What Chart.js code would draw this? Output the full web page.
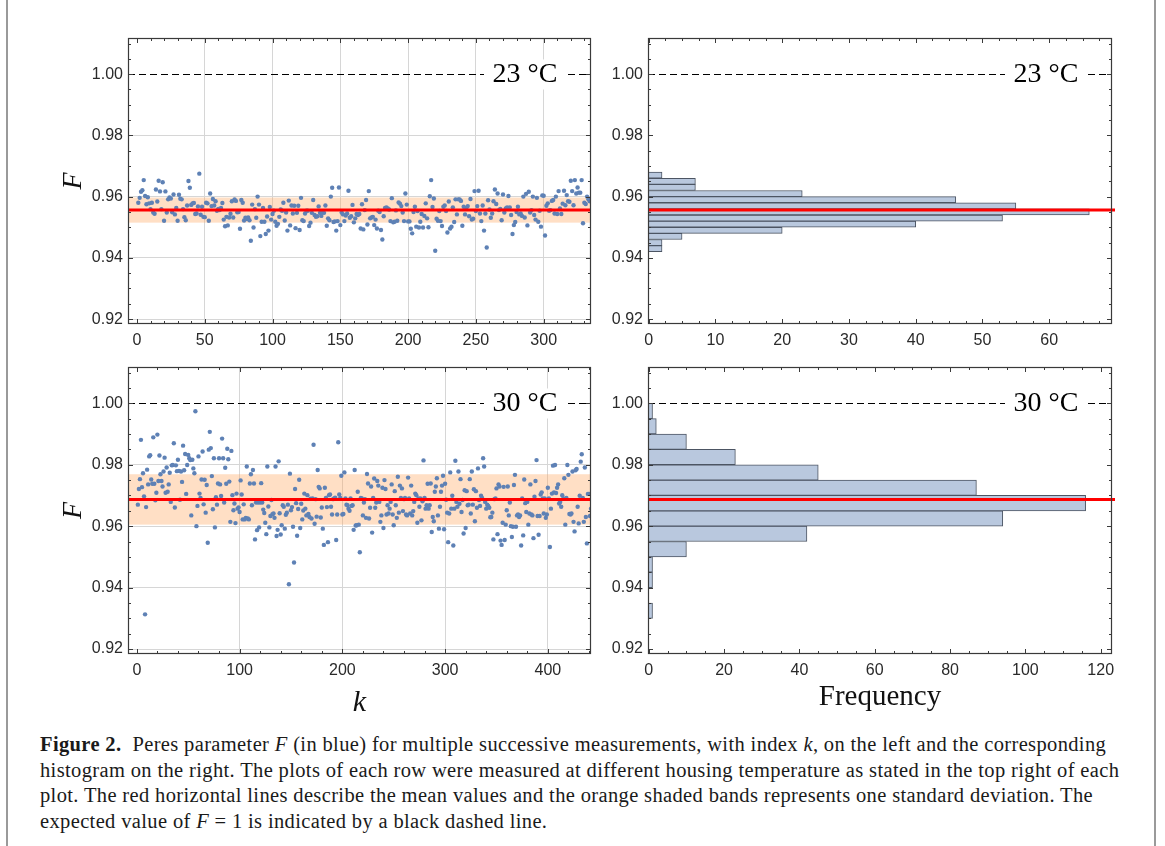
<!DOCTYPE html>
<html>
<head>
<meta charset="utf-8">
<script src="https://cdn.jsdelivr.net/npm/chart.js@4.4.1/dist/chart.umd.min.js"></script>
<style>
  html, body { margin: 0; padding: 0; background: #fff; }
  body { width: 1165px; height: 846px; position: relative; overflow: hidden; }
  canvas { position: absolute; }
  #border { position: absolute; left: 6px; top: 0; width: 1146px; height: 846px;
            border-left: 2px solid #9a9a9a; border-right: 2px solid #9a9a9a; }
  #caption { position: absolute; left: 40px; top: 732px; font-family: "Liberation Serif", serif;
             font-size: 20.5px; letter-spacing: 0.36px; line-height: 25.5px; color: #1a1a1a; white-space: nowrap; }
</style>
</head>
<body>
<div id="border"></div>
<canvas id="sc23" width="600" height="350" style="left:20px;top:10px"></canvas>
<canvas id="hi23" width="545" height="350" style="left:600px;top:10px"></canvas>
<canvas id="sc30" width="600" height="380" style="left:20px;top:350px"></canvas>
<canvas id="hi30" width="545" height="380" style="left:600px;top:350px"></canvas>
<div id="caption">
  <div><b>Figure 2.</b>&nbsp; Peres parameter <i>F</i> (in blue) for multiple successive measurements, with index <i>k</i>, on the left and the corresponding</div>
  <div>histogram on the right. The plots of each row were measured at different housing temperature as stated in the top right of each</div>
  <div>plot. The red horizontal lines describe the mean values and the orange shaded bands represents one standard deviation. The</div>
  <div>expected value of <i>F</i> = 1 is indicated by a black dashed line.</div>
</div>
<script>
// Peres parameter F for successive measurements k = 1, 2, ... at 23 °C
const F23 = [
  0.9580,0.9596,0.9616,0.9621,0.9654,0.9602,0.9575,0.9598,0.9578,0.9559,
  0.9580,0.9548,0.9544,0.9623,0.9584,0.9652,0.9617,0.9559,0.9647,0.9521,
  0.9617,0.9548,0.9591,0.9597,0.9594,0.9549,0.9607,0.9542,0.9563,0.9521,
  0.9606,0.9593,0.9591,0.9559,0.9533,0.9523,0.9571,0.9651,0.9629,0.9573,
  0.9578,0.9579,0.9543,0.9545,0.9568,0.9675,0.9541,0.9567,0.9534,0.9533,
  0.9580,0.9578,0.9521,0.9610,0.9569,0.9592,0.9571,0.9585,0.9554,0.9560,
  0.9556,0.9563,0.9579,0.9525,0.9503,0.9534,0.9506,0.9532,0.9544,0.9585,
  0.9532,0.9591,0.9586,0.9549,0.9550,0.9495,0.9589,0.9580,0.9522,0.9531,
  0.9527,0.9532,0.9523,0.9456,0.9574,0.9499,0.9559,0.9531,0.9600,0.9574,
  0.9471,0.9518,0.9563,0.9518,0.9478,0.9535,0.9489,0.9566,0.9525,0.9543,
  0.9554,0.9518,0.9505,0.9511,0.9534,0.9558,0.9554,0.9580,0.9522,0.9548,
  0.9489,0.9587,0.9506,0.9571,0.9545,0.9570,0.9497,0.9547,0.9570,0.9491,
  0.9596,0.9523,0.9520,0.9545,0.9554,0.9554,0.9504,0.9515,0.9547,0.9589,
  0.9540,0.9534,0.9536,0.9568,0.9547,0.9537,0.9548,0.9547,0.9571,0.9505,
  0.9529,0.9523,0.9600,0.9629,0.9517,0.9519,0.9489,0.9520,0.9630,0.9507,
  0.9548,0.9542,0.9520,0.9538,0.9545,0.9619,0.9531,0.9536,0.9573,0.9516,
  0.9529,0.9543,0.9540,0.9543,0.9496,0.9575,
  0.9493,0.9556,0.9589,0.9509,0.9618,0.9529,0.9532,0.9534,0.9507,0.9525,
  0.9496,0.9554,0.9550,0.9491,0.9460,0.9536,0.9563,0.9565,0.9561,0.9558,
  0.9520,0.9595,0.9516,0.9518,0.9555,0.9521,0.9581,0.9577,0.9569,0.9548,
  0.9520,0.9610,0.9574,0.9519,0.9519,0.9495,0.9480,0.9550,0.9567,0.9502,
  0.9553,0.9499,0.9518,0.9543,0.9499,0.9537,0.9578,0.9529,0.9500,0.9601,
  0.9654,0.9566,0.9594,0.9423,0.9528,0.9521,0.9553,0.9520,0.9504,0.9567,
  0.9571,0.9553,0.9483,0.9584,0.9496,0.9502,0.9565,0.9517,0.9591,0.9542,
  0.9591,0.9591,0.9586,0.9505,0.9567,0.9542,0.9563,0.9569,0.9536,0.9592,
  0.9525,0.9528,0.9618,0.9553,0.9569,0.9619,0.9545,0.9520,0.9571,0.9489,
  0.9545,0.9434,0.9588,0.9558,0.9531,0.9545,0.9585,0.9623,0.9576,0.9610,
  0.9556,0.9560,0.9523,0.9607,0.9548,0.9561,0.9565,0.9602,0.9565,0.9540,
  0.9478,0.9507,0.9517,0.9550,0.9567,0.9542,0.9545,0.9537,0.9600,0.9532,
  0.9609,0.9506,0.9616,0.9548,0.9556,0.9600,0.9540,0.9525,0.9596,0.9518,
  0.9554,0.9502,0.9604,0.9603,0.9473,0.9570,0.9578,0.9554,0.9556,0.9586,
  0.9589,0.9545,0.9600,0.9543,0.9618,0.9561,0.9543,0.9577,0.9619,0.9572,
  0.9605,0.9585,0.9583,0.9652,0.9618,0.9572,0.9654,0.9610,0.9630,0.9613,
  0.9613,0.9654,0.9513,0.9580,0.9576,0.9600,0.9591,0.9585
];

// Peres parameter F for successive measurements at 30 °C
const F30 = [
  0.9670,0.9721,0.9753,0.9881,0.9727,0.9772,0.9697,0.9313,0.9662,0.9784,
  0.9736,0.9827,0.9831,0.9752,0.9738,0.9889,0.9738,0.9684,0.9709,0.9898,
  0.9747,0.9830,0.9769,0.9747,0.9729,0.9778,0.9823,0.9709,0.9791,0.9712,
  0.9736,0.9774,0.9679,0.9798,0.9799,0.9870,0.9661,0.9798,0.9779,0.9816,
  0.9780,0.9686,0.9778,0.9744,0.9862,0.9782,0.9835,0.9705,0.9799,0.9832,
  0.9821,0.9815,0.9635,0.9816,0.9788,0.9772,0.9974,0.9600,0.9666,0.9827,
  0.9706,0.9692,0.9752,0.9843,0.9671,0.9751,0.9644,0.9734,0.9546,0.9849,
  0.9907,0.9854,0.9763,0.9655,0.9821,0.9596,0.9694,0.9670,0.9739,0.9821,
  0.9736,0.9698,0.9885,0.9821,0.9677,0.9790,0.9738,0.9852,0.9818,0.9745,
  0.9614,0.9845,0.9701,0.9652,0.9674,0.9610,0.9706,0.9657,0.9661,0.9646,
  0.9749,0.9703,0.9622,0.9671,0.9622,0.9627,0.9794,0.9625,0.9622,0.9739,
  0.9769,0.9668,0.9783,0.9739,0.9557,0.9677,0.9587,0.9677,0.9596,0.9677,
  0.9740,0.9677,0.9654,0.9643,0.9611,0.9574,0.9794,0.9664,0.9596,0.9633,
  0.9685,0.9639,0.9641,0.9627,0.9794,0.9568,0.9588,0.9811,0.9642,0.9573,
  0.9603,0.9668,0.9663,0.9592,0.9637,0.9644,0.9670,0.9411,0.9771,0.9652,
  0.9662,0.9598,0.9482,0.9721,0.9675,0.9569,0.9656,0.9751,0.9594,0.9673,
  0.9622,0.9651,0.9706,0.9657,0.9635,0.9701,0.9640,0.9630,0.9689,0.9625,
  0.9690,0.9865,0.9608,0.9688,0.9631,0.9783,0.9728,0.9723,0.9628,0.9661,
  0.9592,0.9539,0.9725,0.9692,0.9662,0.9548,0.9701,0.9703,0.9663,0.9638,
  0.9688,0.9690,0.9693,0.9555,0.9638,0.9873,0.9703,0.9692,0.9764,0.9638,
  0.9640,0.9775,0.9690,0.9670,0.9668,0.9657,0.9650,0.9690,0.9666,0.9668,
  0.9588,0.9783,0.9602,0.9603,0.9712,0.9605,0.9515,0.9692,0.9690,0.9635,
  0.9677,0.9688,0.9627,0.9770,0.9739,0.9625,0.9660,0.9729,0.9579,0.9692,
  0.9755,0.9660,0.9677,0.9747,
  0.9732,0.9679,0.9614,0.9635,0.9725,0.9594,0.9750,0.9721,0.9638,0.9668,
  0.9641,0.9657,0.9679,0.9736,0.9638,0.9603,0.9714,0.9668,0.9627,0.9761,
  0.9644,0.9732,0.9692,0.9723,0.9649,0.9688,0.9692,0.9638,0.9635,0.9758,
  0.9690,0.9641,0.9732,0.9635,0.9649,0.9679,0.9706,0.9701,0.9611,0.9690,
  0.9663,0.9690,0.9619,0.9681,0.9814,0.9692,0.9657,0.9668,0.9738,0.9657,
  0.9668,0.9739,0.9581,0.9630,0.9616,0.9712,0.9729,0.9756,0.9635,0.9592,
  0.9663,0.9712,0.9732,0.9764,0.9590,0.9738,0.9686,0.9644,0.9548,0.9641,
  0.9775,0.9657,0.9699,0.9537,0.9657,0.9813,0.9679,0.9663,0.9778,0.9673,
  0.9753,0.9646,0.9685,0.9576,0.9717,0.9594,0.9714,0.9668,0.9670,0.9753,
  0.9641,0.9778,0.9670,0.9720,0.9616,0.9714,0.9660,0.9788,0.9685,0.9666,
  0.9699,0.9692,0.9821,0.9794,0.9679,0.9657,0.9670,0.9666,0.9660,0.9629,
  0.9630,0.9644,0.9557,0.9688,0.9690,0.9723,0.9574,0.9736,0.9729,0.9553,
  0.9539,0.9611,0.9728,0.9555,0.9605,0.9652,0.9729,0.9635,0.9677,0.9600,
  0.9565,0.9598,0.9734,0.9767,0.9598,0.9635,0.9638,0.9630,0.9635,0.9537,
  0.9690,0.9570,0.9752,0.9675,0.9646,0.9679,0.9605,0.9641,0.9736,0.9638,
  0.9635,0.9561,0.9696,0.9747,0.9815,0.9633,0.9572,0.9633,0.9703,0.9710,
  0.9690,0.9641,0.9690,0.9627,0.9638,0.9725,0.9690,0.9532,0.9657,0.9706,
  0.9797,0.9710,0.9799,0.9708,0.9725,0.9736,0.9674,0.9679,0.9663,0.9701,
  0.9690,0.9756,0.9605,0.9692,0.9799,0.9767,0.9640,0.9638,0.9641,0.9778,
  0.9614,0.9583,0.9782,0.9786,0.9663,0.9609,0.9699,0.9810,0.9834,0.9692,
  0.9614,0.9791,0.9630,0.9544,0.9705,0.9705,0.9633,0.9657,0.9751,0.9686,
  0.9690,0.9603,0.9751,0.9653,0.9728,0.9751,0.9752,0.9909,0.9679,0.9653,
  0.9603,0.9597
];

// histograms: lower bin edges and counts
const binStart23 = [0.942,0.944,0.946,0.948,0.950,0.952,0.954,0.956,0.958,0.960,0.962,0.964,0.966];
const count23    = [2,    2,    5,    20,   40,   53,   66,   55,   46,   23,   7,    7,    2];
const binStart30 = [0.930,0.935,0.940,0.945,0.950,0.955,0.960,0.965,0.970,0.975,0.980,0.985,0.990,0.995];
const count30    = [1,    0,    1,    1,    10,   42,   94,   116,  87,   45,   23,   10,   2,    1];

// mean values and one standard deviation
const mean23 = 0.9556, sd23 = 0.0041;
const mean30 = 0.9687, sd30 = 0.0082;
const expectedF = 1.0;

// tick labels
const fTicks = [0.92, 0.94, 0.96, 0.98, 1.00];
const kTicks23 = [0, 50, 100, 150, 200, 250, 300];
const kTicks30 = [0, 100, 200, 300, 400];
const freqTicks23 = [0, 10, 20, 30, 40, 50, 60];
const freqTicks30 = [0, 20, 40, 60, 80, 100, 120];
const labels = ['23 °C', '30 °C'];

const tickFont = { family: '"Liberation Sans", Arial, sans-serif', size: 16 };
const tickColor = '#2a2a2a';
const gridColor = '#d6d6d6';
const clear = 'rgba(0,0,0,0)';

// band, dashed F = 1 line, temperature label, mean line and the ticked frame
const framePlugin = {
  id: 'frame',
  beforeDatasetsDraw(chart, args, o) {
    if (!o.band) return;
    const { ctx, chartArea: a, scales: { y } } = chart;
    const top = y.getPixelForValue(o.band[1]);
    const bot = y.getPixelForValue(o.band[0]);
    ctx.save();
    ctx.fillStyle = 'rgba(255,165,95,0.36)';
    ctx.fillRect(a.left, top, a.right - a.left, bot - top);
    ctx.restore();
  },
  afterDatasetsDraw(chart, args, o) {
    const { ctx, chartArea: a, scales: { x, y } } = chart;
    ctx.save();
    const yr = Math.round(y.getPixelForValue(expectedF)) + 0.5;
    ctx.strokeStyle = '#000';
    ctx.lineWidth = 1;
    ctx.setLineDash([7, 4]);
    ctx.beginPath(); ctx.moveTo(a.left, yr); ctx.lineTo(a.right, yr); ctx.stroke();
    ctx.setLineDash([]);

    ctx.fillStyle = '#fff';
    ctx.fillRect(a.right - 107, yr - 15, 82, 30);
    ctx.fillStyle = '#000';
    ctx.font = '28px "Liberation Serif", serif';
    ctx.textAlign = 'center';
    ctx.textBaseline = 'middle';
    ctx.fillText(o.label, a.right - 66, yr);

    const ym = y.getPixelForValue(o.mean);
    ctx.strokeStyle = '#ff0000';
    ctx.lineWidth = 3;
    ctx.beginPath(); ctx.moveTo(a.left, ym); ctx.lineTo(a.right + (o.over || 0), ym); ctx.stroke();

    ctx.strokeStyle = '#3a3a3a';
    ctx.lineWidth = 1.2;
    ctx.strokeRect(a.left + 0.5, a.top + 0.5, a.right - a.left - 1, a.bottom - a.top - 1);
    ctx.lineWidth = 1;
    const tick = (v, len, horiz) => {
      if (horiz) {
        const p = Math.round(x.getPixelForValue(v)) + 0.5;
        if (p < a.left + 1 || p > a.right - 1) return;
        ctx.beginPath();
        ctx.moveTo(p, a.bottom); ctx.lineTo(p, a.bottom - len);
        ctx.moveTo(p, a.top); ctx.lineTo(p, a.top + len);
        ctx.stroke();
      } else {
        const p = Math.round(y.getPixelForValue(v)) + 0.5;
        if (p < a.top + 1 || p > a.bottom - 1) return;
        ctx.beginPath();
        ctx.moveTo(a.left, p); ctx.lineTo(a.left + len, p);
        ctx.moveTo(a.right, p); ctx.lineTo(a.right - len, p);
        ctx.stroke();
      }
    };
    for (let v = Math.ceil(x.min / o.xMinor) * o.xMinor; v <= x.max; v += o.xMinor) tick(v, 3, true);
    o.xMajor.forEach(v => tick(v, 5, true));
    for (let i = Math.ceil(y.min / 0.005); i * 0.005 <= y.max; i++) tick(i * 0.005, 3, false);
    fTicks.forEach(v => tick(v, 5, false));
    ctx.restore();
  }
};

function yAxis(width, withTitle, grid) {
  return {
    type: 'linear', min: 0.9184, max: 1.0118, offset: false,
    afterBuildTicks: s => { s.ticks = fTicks.map(v => ({ value: v })); },
    afterFit: s => { s.width = width; },
    grid: { display: grid, offset: false, drawTicks: false, color: c => (c.tick && c.tick.value > 0.999) ? clear : gridColor },
    border: { display: false },
    ticks: { padding: 5, font: tickFont, color: tickColor, callback: v => v.toFixed(2) },
    title: { display: withTitle, text: 'F', color: '#111',
             font: { family: '"Liberation Serif", serif', style: 'italic', size: 28 },
             padding: { top: 37, bottom: 0 } }
  };
}

function xAxis(min, max, ticks, height, grid, title, titlePad) {
  return {
    type: 'linear', min: min, max: max, offset: false,
    afterBuildTicks: s => { s.ticks = ticks.map(v => ({ value: v })); },
    afterFit: s => { s.height = height; },
    grid: { display: grid, drawTicks: false, color: c => (c.tick && c.tick.value === 0) ? clear : gridColor },
    border: { display: false },
    ticks: { padding: 7, font: tickFont, color: tickColor, maxRotation: 0, autoSkip: false },
    title: { display: !!title, text: title || '', color: '#111',
             font: { family: '"Liberation Serif", serif', style: title === 'k' ? 'italic' : 'normal', size: title === 'k' ? 30 : 29 },
             padding: { top: 0, bottom: titlePad || 0 } }
  };
}

function scatterChart(id, values, xMin, xMax, kTicks, kMinor, mean, sd, label, padTop, xHeight, title, titlePad) {
  new Chart(document.getElementById(id), {
    type: 'scatter',
    data: { datasets: [{
      data: values.map((f, i) => ({ x: i + 1, y: f })),
      pointRadius: 2.2, pointBorderWidth: 0,
      pointBackgroundColor: '#5E81B5', showLine: false
    }] },
    options: {
      responsive: false, animation: false, events: [],
      layout: { padding: { top: padTop, right: 29, left: 0, bottom: 0 } },
      scales: { x: xAxis(xMin, xMax, kTicks, xHeight, true, title, titlePad), y: yAxis(108, true, true) },
      plugins: { legend: { display: false }, tooltip: { enabled: false },
        frame: { band: [mean - sd, mean + sd], mean: mean, label: label, xMajor: kTicks, xMinor: kMinor } }
    },
    plugins: [framePlugin]
  });
}

function histChart(id, starts, counts, width, xMax, xTicks, xMinor, xMin, mean, label, padTop, xHeight, title, titlePad) {
  new Chart(document.getElementById(id), {
    type: 'bar',
    data: { datasets: [{
      data: starts.map((b, i) => ({ y: b + width / 2, x: counts[i] })),
      backgroundColor: '#B9C8DE', borderColor: '#4c5563', borderWidth: 1,
      barPercentage: 1, categoryPercentage: 1
    }] },
    options: {
      indexAxis: 'y', responsive: false, animation: false, events: [],
      layout: { padding: { top: padTop, right: 33, left: 0, bottom: 0 } },
      scales: { x: xAxis(xMin, xMax, xTicks, xHeight, false, title, titlePad), y: yAxis(48, false, false) },
      plugins: { legend: { display: false }, tooltip: { enabled: false },
        frame: { mean: mean, label: label, xMajor: xTicks, xMinor: xMinor, over: 3 } }
    },
    plugins: [framePlugin]
  });
}

scatterChart('sc23', F23, -6.6, 334.9, kTicks23, 10, mean23, sd23, labels[0], 28, 36);
histChart('hi23', binStart23, count23, 0.002, 69.4, freqTicks23, 2.5, -0.1, mean23, labels[0], 28, 36);
scatterChart('sc30', F30, -8.6, 442, kTicks30, 20, mean30, sd30, labels[1], 17, 76, 'k', 9);
histChart('hi30', binStart30, count30, 0.005, 123, freqTicks30, 5, -0.2, mean30, labels[1], 17, 76, 'Frequency', 15);
</script>
</body>
</html>
